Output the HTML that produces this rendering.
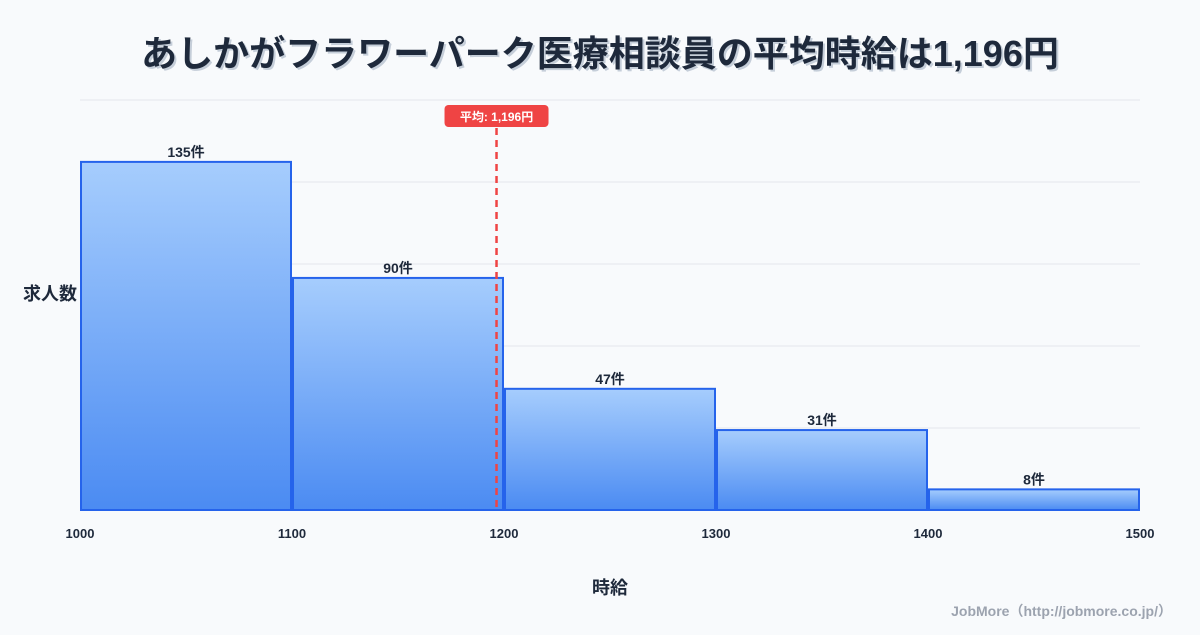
<!DOCTYPE html>
<html><head><meta charset="utf-8"><style>
body{margin:0;width:1200px;height:630px;background:#f8fafc;font-family:"Liberation Sans","Noto Sans CJK JP",sans-serif;overflow:hidden}
svg text{font-family:"Liberation Sans","Noto Sans CJK JP",sans-serif}
</style></head><body>
<svg width="1200" height="630">
<defs><linearGradient id="g" x1="0" y1="0" x2="0" y2="1"><stop offset="0" stop-color="#a6cdfd"/><stop offset="1" stop-color="#4b8bf2"/></linearGradient></defs>
<text x="600" y="66" text-anchor="middle" font-size="36" font-weight="bold" fill="#94a3b8" opacity="0.5" transform="translate(2,2)">あしかがフラワーパーク医療相談員の平均時給は1,196円</text>
<text x="600" y="66" text-anchor="middle" font-size="36" font-weight="bold" fill="#1e293b">あしかがフラワーパーク医療相談員の平均時給は1,196円</text>
<g id="grid"></g><g id="bars"></g><g id="xt"></g>
<text x="50" y="300" text-anchor="middle" font-size="18" font-weight="bold" fill="#1e293b">求人数</text>
<text x="610" y="594" text-anchor="middle" font-size="18" font-weight="bold" fill="#1e293b">時給</text>
<text x="1172" y="616" text-anchor="end" font-size="14" font-weight="bold" fill="#9ca3af">JobMore（http://jobmore.co.jp/）</text>
<g id="mean"></g>
</svg>
<script>
const binStarts=[1000,1100,1200,1300,1400];
const counts=[135,90,47,31,8];
const xTicks=[1000,1100,1200,1300,1400,1500];
const meanValue=1196;
const yMax=159;
const ns="http://www.w3.org/2000/svg";
const X0=80,X1=1140,Y0=510,Y1=100;
const xs=v=>X0+(v-1000)/500*(X1-X0);
const ys=v=>Y0-v/yMax*(Y0-Y1);
function mk(t,a,p){const e=document.createElementNS(ns,t);for(const k in a)e.setAttribute(k,a[k]);p.appendChild(e);return e;}
const grid=document.getElementById('grid');
for(let i=0;i<=5;i++){const y=Y1+i*(Y0-Y1)/5;const l=mk('line',{x1:X0,x2:X1,y1:y,y2:y,stroke:'#e5e7eb','stroke-width':1},grid);

}
const bars=document.getElementById('bars');
binStarts.forEach((b,i)=>{const x=xs(b)+1,w=xs(b+100)-xs(b)-2,y=ys(counts[i]);
const r=mk('rect',{x:x,y:y,width:w,height:Y0-y,fill:'url(#g)',stroke:'#2563eb','stroke-width':2},bars);


const t=mk('text',{x:x+w/2,y:y-5,'text-anchor':'middle','font-size':14,'font-weight':'bold',fill:'#1e293b'},bars);t.textContent=counts[i]+'件';

});
const xt=document.getElementById('xt');
xTicks.forEach(v=>{const t=mk('text',{x:xs(v),y:538,'text-anchor':'middle','font-size':13,'font-weight':'bold',fill:'#1e293b'},xt);t.textContent=v;

});
const m=document.getElementById('mean');const mx=xs(meanValue)+1;
const ml=mk('line',{x1:mx,x2:mx,y1:128,y2:510,stroke:'#ef4444','stroke-width':2.5,'stroke-dasharray':'7,5'},m);


const mr=mk('rect',{x:mx-52,y:105,width:104,height:22,rx:4,fill:'#ef4444'},m);


const mt=mk('text',{x:mx,y:121,'text-anchor':'middle','font-size':12,'font-weight':'bold',fill:'#fff'},m);mt.textContent='平均: 1,196円';


</script>
</body></html>
